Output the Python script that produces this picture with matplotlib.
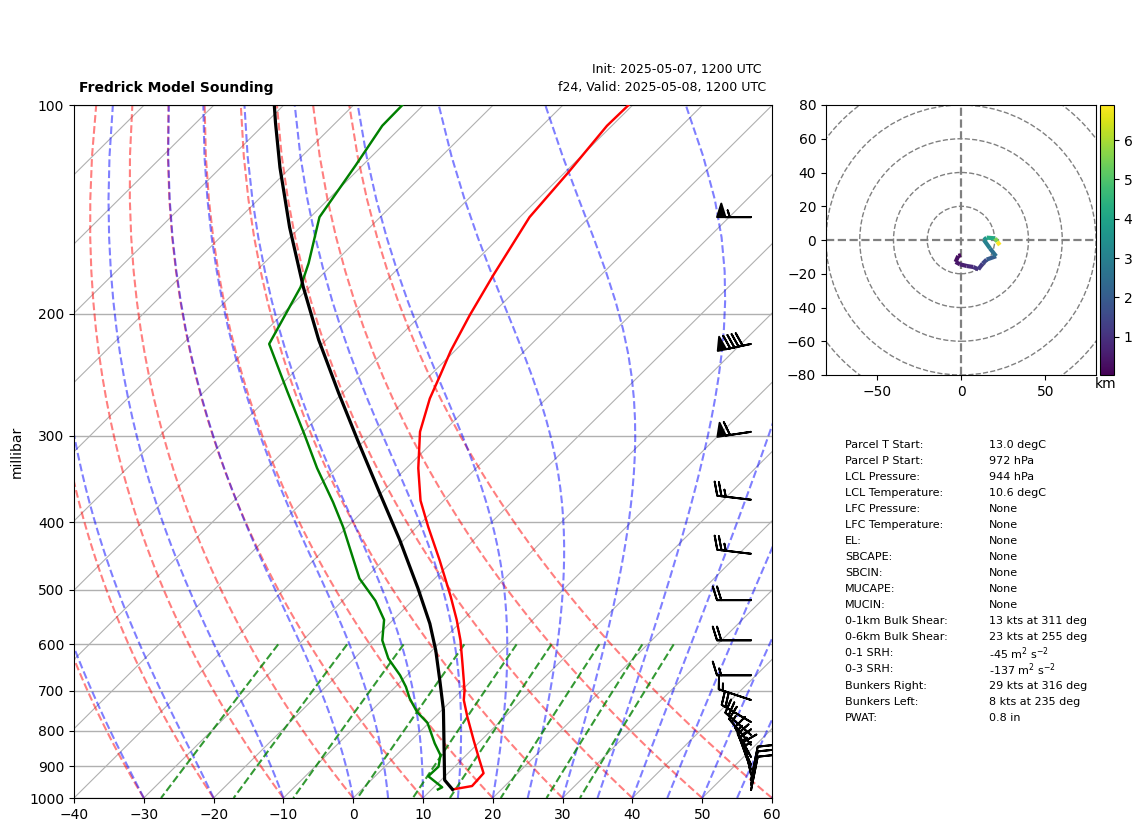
#skew-T sounding with hodograph and parcel table

import matplotlib
matplotlib.use('Agg')
import matplotlib.pyplot as plt
import matplotlib.transforms as transforms
from matplotlib.collections import LineCollection
from matplotlib.patches import Circle
import numpy as np

W, H = 1142, 832

# sounding
temp_p = [972, 961, 921, 872, 825, 763, 722, 699, 639, 592, 553, 512, 454, 406, 372, 334,
          296, 265, 245, 226, 201, 176, 145, 125, 107, 100]
temp_c = [13.0, 15.3, 15.1, 12.0, 8.9, 4.6, 1.7, 0.4, -3.8, -7.4, -10.9, -15.1, -21.9, -28.4, -33.3, -38.3,
          -43.3, -46.7, -48.6, -50.6, -53.0, -55.4, -58.6, -59.5, -60.7, -60.6]

parcel_p = [972, 942, 843, 746, 676, 612, 560, 498, 424, 363, 307, 260, 218, 183, 150, 123, 106, 100]
parcel_c = [13.0, 10.5, 5.6, 0.2, -4.6, -9.5, -14.2, -21.0, -30.6, -40.2, -50.5, -60.6, -71.1, -80.9,
            -91.5, -101.5, -108.6, -111.3]

dew_p = [972, 965, 930, 901, 867, 834, 779, 751, 718, 691, 665, 629, 592, 553, 519, 482, 406, 374, 334,
         298, 259, 221, 183, 169, 145, 122, 107, 100]
dew_c = [10.9, 11.2, 7.6, 7.7, 6.3, 3.8, -0.2, -3.3, -6.3, -8.5, -11.0, -15.1, -18.6, -21.3, -25.3, -30.8,
         -40.6, -45.6, -52.8, -59.6, -68.1, -77.6, -81.3, -83.6, -88.7, -91.0, -92.9, -93.0]

# wind barbs
barb_p = [974, 957, 942, 926, 911, 896, 873, 838, 811, 777, 722, 665, 592, 518, 444, 371, 296, 221, 145]
barb_u = [-2, -2, -2, 3, 5, 6, 7, 11, 15, 17, 15, 15, 20, 20, 25, 25, 60, 90, 55]
barb_v = [-10, -10, -10, -14, -14, -14, -13, -13, -13, -10, -5, 0, 0, 0, -3, -3, 9, 19, 0]

# hodograph
hodo_u = [0, -1.6, -3.2, -0.6, 3.4, 7.3, 10.3, 12.8, 15.2, 20.8, 17.2, 13.6, 15.2, 20.2, 21.5, 23]
hodo_v = [-9, -9.4, -13, -14.4, -15.4, -16, -17.4, -14, -11.6, -9.6, -5, 0, 1.4, 1, -1, -3]
hodo_km = [0.03, 0.15, 0.3, 0.45, 0.6, 0.8, 1.0, 1.2, 1.5, 2.0, 2.5, 3.0, 3.5, 4.2, 5.5, 6.89]
hodo_rings = [20, 40, 60, 80, 100]

# parcel table
table_names = ['Parcel T Start:', 'Parcel P Start:', 'LCL Pressure:', 'LCL Temperature:', 'LFC Pressure:',
               'LFC Temperature:', 'EL:', 'SBCAPE:', 'SBCIN:', 'MUCAPE:', 'MUCIN:', '0-1km Bulk Shear:',
               '0-6km Bulk Shear:', '0-1 SRH:', '0-3 SRH:', 'Bunkers Right:', 'Bunkers Left:', 'PWAT:']
table_values = ['13.0 degC', '972 hPa', '944 hPa', '10.6 degC', 'None', 'None', 'None', 'None', 'None',
                'None', 'None', '13 kts at 311 deg', '23 kts at 255 deg', '-45 m$^2$ s$^{-2}$',
                '-137 m$^2$ s$^{-2}$', '29 kts at 316 deg', '8 kts at 235 deg', '0.8 in']

# background lines
p_ticks = [100, 200, 300, 400, 500, 600, 700, 800, 900, 1000]
t_ticks = [-40, -30, -20, -10, 0, 10, 20, 30, 40, 50, 60]
isotherms = np.arange(-150, 70, 10)
dry_t0 = np.arange(-40, 70, 10)
moist_t0 = np.concatenate((np.arange(-40, 0, 10), np.arange(0, 65, 5)))
mix_w = [0.0004, 0.001, 0.002, 0.004, 0.007, 0.01, 0.016, 0.024, 0.032]

Rd, Cp, Lv, eps = 287.05, 1005.0, 2.501e6, 0.622


def moist_slope(t, p):
    es = 6.112 * np.exp(17.67 * (t - 273.15) / (t - 29.65))
    rs = eps * es / (p - es)
    return (Rd * t + Lv * rs) / (Cp + Lv ** 2 * rs * eps / (Rd * t ** 2))


def moist_lapse(t0, pres):
    out = [t0 + 273.15]
    for p1, p2 in zip(pres[:-1], pres[1:]):
        t = out[-1]
        dl = np.log(p2 / p1)
        k1 = moist_slope(t, p1)
        pm = np.sqrt(p1 * p2)
        k2 = moist_slope(t + 0.5 * dl * k1, pm)
        k3 = moist_slope(t + 0.5 * dl * k2, pm)
        k4 = moist_slope(t + dl * k3, p2)
        out.append(t + dl * (k1 + 2 * k2 + 2 * k3 + k4) / 6)
    return np.array(out) - 273.15


fig = plt.figure(figsize=(W / 100, H / 100), dpi=100)
ax = fig.add_axes([74 / W, 1 - 798 / H, 698 / W, 692.6 / H])
ax.set_yscale('log')

# one axis width of skew per decade of pressure
skew_angle = np.degrees(np.arctan(698 / 692.6))
skew = transforms.Affine2D().translate(0, -(H - 798)).skew_deg(skew_angle, 0).translate(0, H - 798)
tr = ax.transData + skew

pres = np.linspace(1000, 100, 50)
for t in isotherms:
    ax.plot([t, t], [1000, 100], color='#b0b0b0', lw=0.8, transform=tr, zorder=1)
for t0 in dry_t0:
    t = (t0 + 273.15) * (pres / 1000) ** (Rd / Cp) - 273.15
    ax.plot(t, pres, color='r', alpha=0.5, ls='--', lw=1.5, transform=tr, zorder=2)
for t0 in moist_t0:
    ax.plot(moist_lapse(t0, pres), pres, color='b', alpha=0.5, ls='--', lw=1.5, transform=tr, zorder=2)
mix_p = np.linspace(600, 1000, 50)
for w in mix_w:
    e = mix_p * w / (eps + w)
    lg = np.log(e / 6.112)
    ax.plot(243.5 * lg / (17.67 - lg), mix_p, color='g', alpha=0.8, ls='--', lw=1.5, transform=tr, zorder=2)

ax.plot(temp_c, temp_p, color='r', lw=1.75, transform=tr, zorder=4)
ax.plot(dew_c, dew_p, color='g', lw=1.75, transform=tr, zorder=4)
ax.plot(parcel_c, parcel_p, color='k', lw=2.3, transform=tr, zorder=5)

barb_tr = transforms.blended_transform_factory(ax.transAxes, ax.transData)
ax.barbs(np.full(len(barb_p), 0.97), barb_p, barb_u, barb_v, transform=barb_tr, length=7,
         linewidth=1.4, zorder=6)

ax.set_xlim(-40, 60)
ax.set_ylim(1000, 100)
ax.set_xticks(t_ticks)
ax.set_yticks(p_ticks)
ax.set_yticklabels([str(p) for p in p_ticks])
ax.minorticks_off()
ax.yaxis.grid(True, color='#b0b0b0', lw=1)
ax.set_axisbelow(True)
ax.set_ylabel('millibar')

ax.text(79 / W, 1 - 88 / H, 'Fredrick Model Sounding', transform=fig.transFigure, fontweight='bold',
        fontsize=10, va='center', ha='left')
ax.text(762 / W, 1 - 70 / H, 'Init: 2025-05-07, 1200 UTC', transform=fig.transFigure, fontsize=9,
        va='center', ha='right')
ax.text(766 / W, 1 - 88 / H, 'f24, Valid: 2025-05-08, 1200 UTC', transform=fig.transFigure, fontsize=9,
        va='center', ha='right')

# hodograph panel
hax = fig.add_axes([826 / W, 1 - 375 / H, 270 / W, 270 / H])
for r in hodo_rings:
    hax.add_patch(Circle((0, 0), r, fill=False, ec='gray', ls='--', lw=1, zorder=1))
hax.axhline(0, color='gray', ls='--', lw=1.6, zorder=1)
hax.axvline(0, color='gray', ls='--', lw=1.6, zorder=1)
pts = np.column_stack([hodo_u, hodo_v])
lc = LineCollection(np.stack([pts[:-1], pts[1:]], axis=1), cmap='viridis', lw=3, zorder=3)
lc.set_array(np.array(hodo_km[1:]))
lc.set_clim(hodo_km[0], hodo_km[-1])
hax.add_collection(lc)
hax.set_xlim(-80, 80)
hax.set_ylim(-80, 80)
hax.set_xticks([-50, 0, 50])
hax.set_yticks(np.arange(-80, 100, 20))

cax = fig.add_axes([1100 / W, 1 - 375 / H, 14 / W, 270 / H])
fig.colorbar(lc, cax=cax, ticks=[1, 2, 3, 4, 5, 6])
fig.text(1106 / W, 1 - 384 / H, 'km', ha='center', va='center', fontsize=10)

for i, (name, value) in enumerate(zip(table_names, table_values)):
    y = 1 - (444.5 + i * 16.07) / H
    fig.text(845 / W, y, name, fontsize=8, va='center')
    fig.text(989 / W, y, value, fontsize=8, va='center')

fig.savefig('out.png', dpi=100)
